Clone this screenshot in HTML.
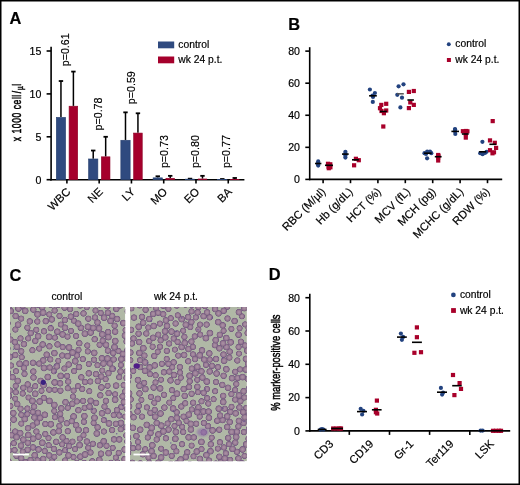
<!DOCTYPE html>
<html><head><meta charset="utf-8"><style>
html,body{margin:0;padding:0;background:#fff;}
svg{display:block;will-change:transform;}
text{font-family:"Liberation Sans", sans-serif;fill:#000;stroke:#000;stroke-width:0.18px;}
</style></head><body>
<svg width="520" height="485" viewBox="0 0 520 485">
<defs><radialGradient id="cg"><stop offset="0" stop-color="#ab91a6"/><stop offset="0.35" stop-color="#a0859b"/><stop offset="0.62" stop-color="#92768e"/><stop offset="0.8" stop-color="#765c82"/><stop offset="0.9" stop-color="#765c82" stop-opacity="0.7"/><stop offset="1" stop-color="#765c82" stop-opacity="0"/></radialGradient><filter id="blur" x="-5%" y="-5%" width="110%" height="110%"><feGaussianBlur stdDeviation="0.6"/></filter><filter id="blur2" x="-50%" y="-50%" width="200%" height="200%"><feGaussianBlur stdDeviation="1.3"/></filter></defs>
<rect width="520" height="485" fill="#fff"/>
<rect x="0.75" y="0.75" width="518.5" height="483.5" fill="none" stroke="#000" stroke-width="1.5"/>
<text x="9.6" y="24" font-size="16.4" text-anchor="start" font-weight="bold" >A</text>
<text x="288.3" y="29.6" font-size="16.4" text-anchor="start" font-weight="bold" >B</text>
<text x="9.4" y="281.0" font-size="16.4" text-anchor="start" font-weight="bold" >C</text>
<text x="268.7" y="280.4" font-size="16.4" text-anchor="start" font-weight="bold" >D</text>
<line x1="51.10" y1="46.80" x2="51.10" y2="180.50" stroke="#000" stroke-width="1.6"/>
<line x1="50.30" y1="179.70" x2="244.40" y2="179.70" stroke="#000" stroke-width="1.6"/>
<line x1="46.60" y1="179.70" x2="51.10" y2="179.70" stroke="#000" stroke-width="1.6"/>
<text x="41.3" y="183.5" font-size="10.6" text-anchor="end" font-weight="normal" >0</text>
<line x1="46.60" y1="136.80" x2="51.10" y2="136.80" stroke="#000" stroke-width="1.6"/>
<text x="41.3" y="140.6" font-size="10.6" text-anchor="end" font-weight="normal" >5</text>
<line x1="46.60" y1="93.90" x2="51.10" y2="93.90" stroke="#000" stroke-width="1.6"/>
<text x="41.3" y="97.69999999999999" font-size="10.6" text-anchor="end" font-weight="normal" >10</text>
<line x1="46.60" y1="51.00" x2="51.10" y2="51.00" stroke="#000" stroke-width="1.6"/>
<text x="41.3" y="54.8" font-size="10.6" text-anchor="end" font-weight="normal" >15</text>
<text class="yl" transform="translate(20.8,141.3) rotate(-90) scale(0.66,1)" font-size="13" letter-spacing="0.85" style="stroke-width:0.5px">x 1000 cell<tspan dx="1.2">/</tspan><tspan font-size="9.5" dx="0.6" dy="1.8">µ</tspan><tspan dy="-1.8">l</tspan></text>
<line x1="66.90" y1="179.70" x2="66.90" y2="183.50" stroke="#000" stroke-width="1.6"/>
<line x1="60.95" y1="81.03" x2="60.95" y2="117.07" stroke="#000" stroke-width="1.5"/>
<line x1="58.75" y1="81.03" x2="63.15" y2="81.03" stroke="#000" stroke-width="1.8"/>
<rect x="56.30" y="117.37" width="9.30" height="62.33" fill="#2f4a7f" stroke="#27406f" stroke-width="0.6"/>
<line x1="73.40" y1="71.59" x2="73.40" y2="105.91" stroke="#000" stroke-width="1.5"/>
<line x1="71.20" y1="71.59" x2="75.60" y2="71.59" stroke="#000" stroke-width="1.8"/>
<rect x="69.10" y="106.21" width="8.60" height="73.49" fill="#a5002c" stroke="#8e0026" stroke-width="0.6"/>
<text class="pv" transform="translate(68.70,66.3) rotate(-90)" font-size="10.7">p=0.61</text>
<text class="xl" transform="translate(71.20,192.5) rotate(-45)" font-size="11.3" text-anchor="end">WBC</text>
<line x1="99.17" y1="179.70" x2="99.17" y2="183.50" stroke="#000" stroke-width="1.6"/>
<line x1="93.22" y1="150.53" x2="93.22" y2="158.68" stroke="#000" stroke-width="1.5"/>
<line x1="91.02" y1="150.53" x2="95.42" y2="150.53" stroke="#000" stroke-width="1.8"/>
<rect x="88.57" y="158.98" width="9.30" height="20.72" fill="#2f4a7f" stroke="#27406f" stroke-width="0.6"/>
<line x1="105.67" y1="136.80" x2="105.67" y2="156.53" stroke="#000" stroke-width="1.5"/>
<line x1="103.47" y1="136.80" x2="107.87" y2="136.80" stroke="#000" stroke-width="1.8"/>
<rect x="101.37" y="156.83" width="8.60" height="22.87" fill="#a5002c" stroke="#8e0026" stroke-width="0.6"/>
<text class="pv" transform="translate(101.50,130.5) rotate(-90)" font-size="10.7">p=0.78</text>
<text class="xl" transform="translate(103.47,192.5) rotate(-45)" font-size="11.3" text-anchor="end">NE</text>
<line x1="131.44" y1="179.70" x2="131.44" y2="183.50" stroke="#000" stroke-width="1.6"/>
<line x1="125.49" y1="112.35" x2="125.49" y2="139.97" stroke="#000" stroke-width="1.5"/>
<line x1="123.29" y1="112.35" x2="127.69" y2="112.35" stroke="#000" stroke-width="1.8"/>
<rect x="120.84" y="140.27" width="9.30" height="39.43" fill="#2f4a7f" stroke="#27406f" stroke-width="0.6"/>
<line x1="137.94" y1="113.29" x2="137.94" y2="132.77" stroke="#000" stroke-width="1.5"/>
<line x1="135.74" y1="113.29" x2="140.14" y2="113.29" stroke="#000" stroke-width="1.8"/>
<rect x="133.64" y="133.07" width="8.60" height="46.63" fill="#a5002c" stroke="#8e0026" stroke-width="0.6"/>
<text class="pv" transform="translate(135.00,104.2) rotate(-90)" font-size="10.7">p=0.59</text>
<text class="xl" transform="translate(135.74,192.5) rotate(-45)" font-size="11.3" text-anchor="end">LY</text>
<line x1="163.71" y1="179.70" x2="163.71" y2="183.50" stroke="#000" stroke-width="1.6"/>
<line x1="157.76" y1="176.27" x2="157.76" y2="177.55" stroke="#000" stroke-width="1.5"/>
<line x1="155.56" y1="176.27" x2="159.96" y2="176.27" stroke="#000" stroke-width="1.8"/>
<rect x="153.11" y="177.85" width="9.30" height="1.85" fill="#2f4a7f" stroke="#27406f" stroke-width="0.6"/>
<line x1="170.21" y1="175.84" x2="170.21" y2="177.98" stroke="#000" stroke-width="1.5"/>
<line x1="168.01" y1="175.84" x2="172.41" y2="175.84" stroke="#000" stroke-width="1.8"/>
<rect x="165.91" y="178.28" width="8.60" height="1.42" fill="#a5002c" stroke="#8e0026" stroke-width="0.6"/>
<text class="pv" transform="translate(167.60,168.1) rotate(-90)" font-size="10.7">p=0.73</text>
<text class="xl" transform="translate(168.01,192.5) rotate(-45)" font-size="11.3" text-anchor="end">MO</text>
<line x1="195.98" y1="179.70" x2="195.98" y2="183.50" stroke="#000" stroke-width="1.6"/>
<line x1="190.03" y1="178.67" x2="190.03" y2="178.84" stroke="#000" stroke-width="1.5"/>
<line x1="187.83" y1="178.67" x2="192.23" y2="178.67" stroke="#000" stroke-width="1.8"/>
<rect x="185.38" y="179.14" width="9.30" height="0.56" fill="#2f4a7f" stroke="#27406f" stroke-width="0.6"/>
<line x1="202.48" y1="175.84" x2="202.48" y2="178.67" stroke="#000" stroke-width="1.5"/>
<line x1="200.28" y1="175.84" x2="204.68" y2="175.84" stroke="#000" stroke-width="1.8"/>
<rect x="198.18" y="178.97" width="8.60" height="0.73" fill="#a5002c" stroke="#8e0026" stroke-width="0.6"/>
<text class="pv" transform="translate(198.60,168.1) rotate(-90)" font-size="10.7">p=0.80</text>
<text class="xl" transform="translate(200.28,192.5) rotate(-45)" font-size="11.3" text-anchor="end">EO</text>
<line x1="228.25" y1="179.70" x2="228.25" y2="183.50" stroke="#000" stroke-width="1.6"/>
<line x1="222.30" y1="179.01" x2="222.30" y2="179.19" stroke="#000" stroke-width="1.5"/>
<line x1="220.10" y1="179.01" x2="224.50" y2="179.01" stroke="#000" stroke-width="1.8"/>
<rect x="217.65" y="179.49" width="9.30" height="0.21" fill="#2f4a7f" stroke="#27406f" stroke-width="0.6"/>
<line x1="234.75" y1="177.98" x2="234.75" y2="179.10" stroke="#000" stroke-width="1.5"/>
<line x1="232.55" y1="177.98" x2="236.95" y2="177.98" stroke="#000" stroke-width="1.8"/>
<rect x="230.45" y="179.40" width="8.60" height="0.30" fill="#a5002c" stroke="#8e0026" stroke-width="0.6"/>
<text class="pv" transform="translate(230.20,168.1) rotate(-90)" font-size="10.7">p=0.77</text>
<text class="xl" transform="translate(232.55,192.5) rotate(-45)" font-size="11.3" text-anchor="end">BA</text>
<rect x="158" y="41.5" width="16.2" height="6.8" fill="#2f4a7f"/>
<rect x="158" y="56.5" width="16.2" height="6.8" fill="#a5002c"/>
<text x="178.3" y="47.7" font-size="10.3" text-anchor="start" font-weight="normal" >control</text>
<text x="178.3" y="62.7" font-size="10.3" text-anchor="start" font-weight="normal" >wk 24 p.t.</text>
<line x1="309.70" y1="47.20" x2="309.70" y2="180.20" stroke="#000" stroke-width="1.6"/>
<line x1="308.90" y1="179.40" x2="502.20" y2="179.40" stroke="#000" stroke-width="1.6"/>
<line x1="305.30" y1="179.40" x2="309.70" y2="179.40" stroke="#000" stroke-width="1.6"/>
<text x="300.0" y="183.20000000000002" font-size="10.6" text-anchor="end" font-weight="normal" >0</text>
<line x1="305.30" y1="147.33" x2="309.70" y2="147.33" stroke="#000" stroke-width="1.6"/>
<text x="300.0" y="151.13000000000002" font-size="10.6" text-anchor="end" font-weight="normal" >20</text>
<line x1="305.30" y1="115.26" x2="309.70" y2="115.26" stroke="#000" stroke-width="1.6"/>
<text x="300.0" y="119.06" font-size="10.6" text-anchor="end" font-weight="normal" >40</text>
<line x1="305.30" y1="83.19" x2="309.70" y2="83.19" stroke="#000" stroke-width="1.6"/>
<text x="300.0" y="86.99000000000001" font-size="10.6" text-anchor="end" font-weight="normal" >60</text>
<line x1="305.30" y1="51.12" x2="309.70" y2="51.12" stroke="#000" stroke-width="1.6"/>
<text x="300.0" y="54.92" font-size="10.6" text-anchor="end" font-weight="normal" >80</text>
<line x1="323.10" y1="179.40" x2="323.10" y2="183.20" stroke="#000" stroke-width="1.6"/>
<text class="xl" transform="translate(326.10,192.3) rotate(-45)" font-size="11.2" text-anchor="end">RBC (M/µl)</text>
<line x1="350.50" y1="179.40" x2="350.50" y2="183.20" stroke="#000" stroke-width="1.6"/>
<text class="xl" transform="translate(353.50,192.3) rotate(-45)" font-size="11.2" text-anchor="end">Hb (g/dL)</text>
<line x1="377.90" y1="179.40" x2="377.90" y2="183.20" stroke="#000" stroke-width="1.6"/>
<text class="xl" transform="translate(381.70,192.3) rotate(-45)" font-size="11.2" text-anchor="end">HCT (%)</text>
<line x1="405.30" y1="179.40" x2="405.30" y2="183.20" stroke="#000" stroke-width="1.6"/>
<text class="xl" transform="translate(411.00,192.3) rotate(-45)" font-size="11.2" text-anchor="end">MCV (fL)</text>
<line x1="432.70" y1="179.40" x2="432.70" y2="183.20" stroke="#000" stroke-width="1.6"/>
<text class="xl" transform="translate(436.50,192.3) rotate(-45)" font-size="11.2" text-anchor="end">MCH (pg)</text>
<line x1="460.10" y1="179.40" x2="460.10" y2="183.20" stroke="#000" stroke-width="1.6"/>
<text class="xl" transform="translate(464.10,192.3) rotate(-45)" font-size="11.2" text-anchor="end">MCHC (g/dL)</text>
<line x1="487.50" y1="179.40" x2="487.50" y2="183.20" stroke="#000" stroke-width="1.6"/>
<text class="xl" transform="translate(490.50,192.3) rotate(-45)" font-size="11.2" text-anchor="end">RDW (%)</text>
<circle cx="318.20" cy="161.40" r="2.1" fill="#22427f"/>
<circle cx="318.20" cy="162.90" r="2.1" fill="#22427f"/>
<circle cx="318.20" cy="164.40" r="2.1" fill="#22427f"/>
<circle cx="318.20" cy="165.60" r="2.1" fill="#22427f"/>
<line x1="315.00" y1="163.50" x2="321.40" y2="163.50" stroke="#000" stroke-width="1.6"/>
<rect x="325.90" y="161.70" width="4.2" height="4.2" fill="#a8002a"/>
<rect x="328.20" y="162.20" width="4.2" height="4.2" fill="#a8002a"/>
<rect x="326.50" y="164.70" width="4.2" height="4.2" fill="#a8002a"/>
<rect x="328.30" y="165.20" width="4.2" height="4.2" fill="#a8002a"/>
<rect x="326.70" y="166.10" width="4.2" height="4.2" fill="#a8002a"/>
<line x1="325.00" y1="165.30" x2="333.00" y2="165.30" stroke="#000" stroke-width="1.6"/>
<circle cx="345.40" cy="151.80" r="2.1" fill="#22427f"/>
<circle cx="345.40" cy="153.50" r="2.1" fill="#22427f"/>
<circle cx="345.40" cy="155.50" r="2.1" fill="#22427f"/>
<circle cx="345.40" cy="157.60" r="2.1" fill="#22427f"/>
<line x1="342.00" y1="154.10" x2="348.70" y2="154.10" stroke="#000" stroke-width="1.6"/>
<rect x="353.80" y="156.70" width="4.2" height="4.2" fill="#a8002a"/>
<rect x="356.70" y="158.10" width="4.2" height="4.2" fill="#a8002a"/>
<rect x="352.00" y="163.20" width="4.2" height="4.2" fill="#a8002a"/>
<line x1="352.00" y1="159.80" x2="358.80" y2="159.80" stroke="#000" stroke-width="1.6"/>
<circle cx="369.90" cy="89.50" r="2.1" fill="#22427f"/>
<circle cx="374.90" cy="93.00" r="2.1" fill="#22427f"/>
<circle cx="373.00" cy="97.00" r="2.1" fill="#22427f"/>
<circle cx="372.80" cy="101.90" r="2.1" fill="#22427f"/>
<circle cx="372.50" cy="95.50" r="2.1" fill="#22427f"/>
<line x1="369.10" y1="95.80" x2="376.80" y2="95.80" stroke="#000" stroke-width="1.6"/>
<rect x="384.10" y="101.70" width="4.2" height="4.2" fill="#a8002a"/>
<rect x="379.20" y="102.80" width="4.2" height="4.2" fill="#a8002a"/>
<rect x="377.90" y="106.10" width="4.2" height="4.2" fill="#a8002a"/>
<rect x="379.40" y="108.90" width="4.2" height="4.2" fill="#a8002a"/>
<rect x="384.10" y="108.40" width="4.2" height="4.2" fill="#a8002a"/>
<rect x="381.80" y="111.10" width="4.2" height="4.2" fill="#a8002a"/>
<rect x="381.20" y="124.40" width="4.2" height="4.2" fill="#a8002a"/>
<line x1="380.00" y1="111.50" x2="386.90" y2="111.50" stroke="#000" stroke-width="1.6"/>
<circle cx="398.60" cy="86.30" r="2.1" fill="#22427f"/>
<circle cx="403.50" cy="84.30" r="2.1" fill="#22427f"/>
<circle cx="397.30" cy="94.80" r="2.1" fill="#22427f"/>
<circle cx="402.00" cy="97.70" r="2.1" fill="#22427f"/>
<circle cx="400.40" cy="107.40" r="2.1" fill="#22427f"/>
<line x1="397.00" y1="93.80" x2="403.80" y2="93.80" stroke="#555" stroke-width="1.5"/>
<rect x="406.80" y="89.80" width="4.2" height="4.2" fill="#a8002a"/>
<rect x="411.70" y="88.90" width="4.2" height="4.2" fill="#a8002a"/>
<rect x="408.20" y="100.30" width="4.2" height="4.2" fill="#a8002a"/>
<rect x="411.70" y="102.80" width="4.2" height="4.2" fill="#a8002a"/>
<rect x="406.80" y="106.00" width="4.2" height="4.2" fill="#a8002a"/>
<line x1="407.40" y1="100.00" x2="413.90" y2="100.00" stroke="#000" stroke-width="1.6"/>
<circle cx="424.50" cy="153.20" r="2.1" fill="#22427f"/>
<circle cx="427.20" cy="151.60" r="2.1" fill="#22427f"/>
<circle cx="430.00" cy="151.60" r="2.1" fill="#22427f"/>
<circle cx="431.30" cy="153.20" r="2.1" fill="#22427f"/>
<circle cx="427.10" cy="158.30" r="2.1" fill="#22427f"/>
<circle cx="426.00" cy="154.00" r="2.1" fill="#22427f"/>
<line x1="424.00" y1="153.20" x2="431.70" y2="153.20" stroke="#000" stroke-width="1.6"/>
<rect x="436.10" y="152.90" width="4.2" height="4.2" fill="#a8002a"/>
<rect x="436.10" y="155.40" width="4.2" height="4.2" fill="#a8002a"/>
<rect x="436.10" y="158.40" width="4.2" height="4.2" fill="#a8002a"/>
<rect x="436.30" y="153.90" width="4.2" height="4.2" fill="#a8002a"/>
<line x1="434.80" y1="156.70" x2="441.60" y2="156.70" stroke="#000" stroke-width="1.6"/>
<circle cx="455.10" cy="129.60" r="2.1" fill="#22427f"/>
<circle cx="455.10" cy="131.60" r="2.1" fill="#22427f"/>
<circle cx="455.30" cy="134.00" r="2.1" fill="#22427f"/>
<circle cx="455.00" cy="129.00" r="2.1" fill="#22427f"/>
<line x1="451.40" y1="131.40" x2="459.00" y2="131.40" stroke="#000" stroke-width="1.6"/>
<rect x="460.80" y="129.10" width="4.2" height="4.2" fill="#a8002a"/>
<rect x="463.90" y="128.90" width="4.2" height="4.2" fill="#a8002a"/>
<rect x="465.30" y="129.20" width="4.2" height="4.2" fill="#a8002a"/>
<rect x="463.70" y="131.90" width="4.2" height="4.2" fill="#a8002a"/>
<rect x="463.70" y="135.50" width="4.2" height="4.2" fill="#a8002a"/>
<line x1="461.90" y1="134.00" x2="468.70" y2="134.00" stroke="#000" stroke-width="1.6"/>
<circle cx="482.40" cy="141.80" r="2.1" fill="#22427f"/>
<circle cx="480.20" cy="153.20" r="2.1" fill="#22427f"/>
<circle cx="482.60" cy="154.20" r="2.1" fill="#22427f"/>
<circle cx="485.00" cy="153.00" r="2.1" fill="#22427f"/>
<circle cx="486.50" cy="151.80" r="2.1" fill="#22427f"/>
<line x1="479.10" y1="151.80" x2="486.30" y2="151.80" stroke="#000" stroke-width="1.6"/>
<rect x="490.60" y="119.00" width="4.2" height="4.2" fill="#a8002a"/>
<rect x="487.90" y="138.30" width="4.2" height="4.2" fill="#a8002a"/>
<rect x="492.70" y="140.70" width="4.2" height="4.2" fill="#a8002a"/>
<rect x="494.00" y="145.80" width="4.2" height="4.2" fill="#a8002a"/>
<rect x="487.90" y="148.10" width="4.2" height="4.2" fill="#a8002a"/>
<rect x="490.40" y="151.20" width="4.2" height="4.2" fill="#a8002a"/>
<rect x="491.90" y="150.20" width="4.2" height="4.2" fill="#a8002a"/>
<line x1="489.40" y1="144.30" x2="496.10" y2="144.30" stroke="#000" stroke-width="1.6"/>
<circle cx="448.80" cy="44.30" r="1.95" fill="#22427f"/>
<rect x="446.90" y="58.00" width="4.0" height="4.0" fill="#a8002a"/>
<text x="455.3" y="47.3" font-size="10.3" text-anchor="start" font-weight="normal" >control</text>
<text x="455.3" y="63.1" font-size="10.3" text-anchor="start" font-weight="normal" >wk 24 p.t.</text>
<line x1="309.80" y1="293.80" x2="309.80" y2="431.70" stroke="#000" stroke-width="1.6"/>
<line x1="309.00" y1="430.90" x2="510.20" y2="430.90" stroke="#000" stroke-width="1.6"/>
<line x1="305.40" y1="430.90" x2="309.80" y2="430.90" stroke="#000" stroke-width="1.6"/>
<text x="300.0" y="434.7" font-size="10.6" text-anchor="end" font-weight="normal" >0</text>
<line x1="305.40" y1="397.60" x2="309.80" y2="397.60" stroke="#000" stroke-width="1.6"/>
<text x="300.0" y="401.4" font-size="10.6" text-anchor="end" font-weight="normal" >20</text>
<line x1="305.40" y1="364.30" x2="309.80" y2="364.30" stroke="#000" stroke-width="1.6"/>
<text x="300.0" y="368.09999999999997" font-size="10.6" text-anchor="end" font-weight="normal" >40</text>
<line x1="305.40" y1="331.00" x2="309.80" y2="331.00" stroke="#000" stroke-width="1.6"/>
<text x="300.0" y="334.8" font-size="10.6" text-anchor="end" font-weight="normal" >60</text>
<line x1="305.40" y1="297.70" x2="309.80" y2="297.70" stroke="#000" stroke-width="1.6"/>
<text x="300.0" y="301.5" font-size="10.6" text-anchor="end" font-weight="normal" >80</text>
<line x1="349.30" y1="430.90" x2="349.30" y2="434.90" stroke="#000" stroke-width="1.6"/>
<line x1="389.50" y1="430.90" x2="389.50" y2="434.90" stroke="#000" stroke-width="1.6"/>
<line x1="429.60" y1="430.90" x2="429.60" y2="434.90" stroke="#000" stroke-width="1.6"/>
<line x1="469.80" y1="430.90" x2="469.80" y2="434.90" stroke="#000" stroke-width="1.6"/>
<text class="yl" transform="translate(279.8,410.8) rotate(-90) scale(0.70,1)" font-size="13.4" style="stroke-width:0.5px">% marker-positive cells</text>
<text class="xl" transform="translate(334.10,444.5) rotate(-45)" font-size="11.2" text-anchor="end">CD3</text>
<text class="xl" transform="translate(374.10,444.5) rotate(-45)" font-size="11.2" text-anchor="end">CD19</text>
<text class="xl" transform="translate(414.20,444.5) rotate(-45)" font-size="11.2" text-anchor="end">Gr-1</text>
<text class="xl" transform="translate(454.30,444.5) rotate(-45)" font-size="11.2" text-anchor="end">Ter119</text>
<text class="xl" transform="translate(494.60,444.5) rotate(-45)" font-size="11.2" text-anchor="end">LSK</text>
<circle cx="320.50" cy="429.60" r="2.1" fill="#22427f"/>
<circle cx="322.00" cy="429.00" r="2.1" fill="#22427f"/>
<circle cx="323.50" cy="429.60" r="2.1" fill="#22427f"/>
<line x1="317.70" y1="429.50" x2="326.60" y2="429.50" stroke="#000" stroke-width="1.6"/>
<rect x="331.10" y="426.40" width="4.2" height="4.2" fill="#a8002a"/>
<rect x="334.40" y="426.40" width="4.2" height="4.2" fill="#a8002a"/>
<rect x="337.40" y="426.40" width="4.2" height="4.2" fill="#a8002a"/>
<rect x="338.90" y="426.40" width="4.2" height="4.2" fill="#a8002a"/>
<line x1="331.20" y1="428.50" x2="343.00" y2="428.50" stroke="#000" stroke-width="1.6"/>
<circle cx="360.70" cy="408.80" r="2.1" fill="#22427f"/>
<circle cx="363.40" cy="410.80" r="2.1" fill="#22427f"/>
<circle cx="362.10" cy="414.50" r="2.1" fill="#22427f"/>
<line x1="357.00" y1="411.60" x2="367.00" y2="411.60" stroke="#000" stroke-width="1.6"/>
<rect x="374.80" y="398.50" width="4.2" height="4.2" fill="#a8002a"/>
<rect x="373.80" y="407.70" width="4.2" height="4.2" fill="#a8002a"/>
<rect x="375.10" y="411.40" width="4.2" height="4.2" fill="#a8002a"/>
<rect x="373.80" y="410.10" width="4.2" height="4.2" fill="#a8002a"/>
<line x1="371.90" y1="409.80" x2="381.60" y2="409.80" stroke="#000" stroke-width="1.6"/>
<circle cx="400.90" cy="333.60" r="2.1" fill="#22427f"/>
<circle cx="403.10" cy="336.90" r="2.1" fill="#22427f"/>
<circle cx="401.90" cy="339.80" r="2.1" fill="#22427f"/>
<line x1="397.00" y1="337.10" x2="406.80" y2="337.10" stroke="#000" stroke-width="1.6"/>
<rect x="414.80" y="325.30" width="4.2" height="4.2" fill="#a8002a"/>
<rect x="414.80" y="335.10" width="4.2" height="4.2" fill="#a8002a"/>
<rect x="412.30" y="350.70" width="4.2" height="4.2" fill="#a8002a"/>
<rect x="418.90" y="350.10" width="4.2" height="4.2" fill="#a8002a"/>
<line x1="412.00" y1="342.30" x2="421.90" y2="342.30" stroke="#000" stroke-width="1.6"/>
<circle cx="440.90" cy="387.90" r="2.1" fill="#22427f"/>
<circle cx="442.10" cy="394.60" r="2.1" fill="#22427f"/>
<circle cx="443.10" cy="392.60" r="2.1" fill="#22427f"/>
<line x1="437.00" y1="392.20" x2="447.00" y2="392.20" stroke="#000" stroke-width="1.6"/>
<rect x="450.90" y="372.90" width="4.2" height="4.2" fill="#a8002a"/>
<rect x="457.50" y="381.00" width="4.2" height="4.2" fill="#a8002a"/>
<rect x="458.90" y="386.80" width="4.2" height="4.2" fill="#a8002a"/>
<rect x="452.30" y="393.00" width="4.2" height="4.2" fill="#a8002a"/>
<line x1="452.20" y1="385.70" x2="461.70" y2="385.70" stroke="#000" stroke-width="1.6"/>
<circle cx="480.60" cy="430.60" r="2.1" fill="#22427f"/>
<circle cx="482.60" cy="430.60" r="2.1" fill="#22427f"/>
<line x1="478.60" y1="430.80" x2="484.60" y2="430.80" stroke="#000" stroke-width="1.6"/>
<rect x="490.90" y="428.70" width="4.2" height="4.2" fill="#a8002a"/>
<rect x="493.90" y="428.70" width="4.2" height="4.2" fill="#a8002a"/>
<rect x="496.90" y="428.70" width="4.2" height="4.2" fill="#a8002a"/>
<rect x="498.90" y="428.70" width="4.2" height="4.2" fill="#a8002a"/>
<line x1="491.00" y1="430.80" x2="503.20" y2="430.80" stroke="#000" stroke-width="1.6"/>
<circle cx="453.40" cy="294.90" r="2.35" fill="#22427f"/>
<rect x="451.10" y="308.10" width="4.8" height="4.8" fill="#a8002a"/>
<text x="459.9" y="298" font-size="10.3" text-anchor="start" font-weight="normal" >control</text>
<text x="459.9" y="313.5" font-size="10.3" text-anchor="start" font-weight="normal" >wk 24 p.t.</text>
<text x="51.4" y="300" font-size="10.3" text-anchor="start" font-weight="normal" >control</text>
<text x="153.9" y="299.8" font-size="10.3" text-anchor="start" font-weight="normal" >wk 24 p.t.</text>
<clipPath id="clip1"><rect x="10" y="307" width="115.3" height="154"/></clipPath>
<g clip-path="url(#clip1)">
<rect x="10" y="307" width="115.3" height="154" fill="#b0b8a6"/>
<g filter="url(#blur)">
<circle cx="23.3" cy="439.6" r="3.62" fill="url(#cg)"/>
<circle cx="99.6" cy="344.8" r="3.45" fill="url(#cg)"/>
<circle cx="67.1" cy="375.9" r="3.43" fill="url(#cg)"/>
<circle cx="86.0" cy="430.2" r="3.60" fill="url(#cg)"/>
<circle cx="18.4" cy="308.5" r="3.73" fill="url(#cg)"/>
<circle cx="108.4" cy="373.2" r="3.57" fill="url(#cg)"/>
<circle cx="99.5" cy="304.3" r="3.74" fill="url(#cg)"/>
<circle cx="61.0" cy="419.4" r="3.75" fill="url(#cg)"/>
<circle cx="34.7" cy="455.2" r="3.65" fill="url(#cg)"/>
<circle cx="116.3" cy="308.9" r="3.58" fill="url(#cg)"/>
<circle cx="10.1" cy="390.6" r="3.50" fill="url(#cg)"/>
<circle cx="120.9" cy="365.0" r="3.38" fill="url(#cg)"/>
<circle cx="33.3" cy="371.5" r="3.56" fill="url(#cg)"/>
<circle cx="10.5" cy="339.5" r="3.42" fill="url(#cg)"/>
<circle cx="60.1" cy="383.3" r="3.58" fill="url(#cg)"/>
<circle cx="35.3" cy="340.9" r="3.52" fill="url(#cg)"/>
<circle cx="33.5" cy="377.5" r="3.57" fill="url(#cg)"/>
<circle cx="42.2" cy="307.4" r="3.58" fill="url(#cg)"/>
<circle cx="108.6" cy="393.0" r="3.57" fill="url(#cg)"/>
<circle cx="84.9" cy="333.7" r="3.72" fill="url(#cg)"/>
<circle cx="127.4" cy="441.6" r="3.57" fill="url(#cg)"/>
<circle cx="21.7" cy="357.2" r="3.40" fill="url(#cg)"/>
<circle cx="94.5" cy="417.8" r="3.70" fill="url(#cg)"/>
<circle cx="120.6" cy="371.5" r="3.65" fill="url(#cg)"/>
<circle cx="107.7" cy="411.2" r="3.50" fill="url(#cg)"/>
<circle cx="43.8" cy="398.0" r="3.53" fill="url(#cg)"/>
<circle cx="114.0" cy="439.4" r="3.57" fill="url(#cg)"/>
<circle cx="36.4" cy="431.6" r="3.51" fill="url(#cg)"/>
<circle cx="57.3" cy="331.7" r="3.62" fill="url(#cg)"/>
<circle cx="73.6" cy="416.5" r="3.75" fill="url(#cg)"/>
<circle cx="88.8" cy="364.0" r="3.37" fill="url(#cg)"/>
<circle cx="101.4" cy="387.4" r="3.72" fill="url(#cg)"/>
<circle cx="54.7" cy="382.4" r="3.75" fill="url(#cg)"/>
<circle cx="10.6" cy="311.0" r="3.70" fill="url(#cg)"/>
<circle cx="92.3" cy="461.3" r="3.54" fill="url(#cg)"/>
<circle cx="79.0" cy="367.0" r="3.62" fill="url(#cg)"/>
<circle cx="27.7" cy="384.4" r="3.54" fill="url(#cg)"/>
<circle cx="126.1" cy="427.3" r="3.50" fill="url(#cg)"/>
<circle cx="72.5" cy="441.6" r="3.41" fill="url(#cg)"/>
<circle cx="35.2" cy="386.2" r="3.43" fill="url(#cg)"/>
<circle cx="122.5" cy="396.4" r="3.54" fill="url(#cg)"/>
<circle cx="62.7" cy="347.1" r="3.46" fill="url(#cg)"/>
<circle cx="73.5" cy="457.1" r="3.43" fill="url(#cg)"/>
<circle cx="7.7" cy="429.4" r="3.59" fill="url(#cg)"/>
<circle cx="106.5" cy="445.8" r="3.46" fill="url(#cg)"/>
<circle cx="96.8" cy="433.5" r="3.68" fill="url(#cg)"/>
<circle cx="13.8" cy="443.2" r="3.39" fill="url(#cg)"/>
<circle cx="76.1" cy="336.0" r="3.44" fill="url(#cg)"/>
<circle cx="68.2" cy="381.6" r="3.52" fill="url(#cg)"/>
<circle cx="50.3" cy="359.4" r="3.44" fill="url(#cg)"/>
<circle cx="72.3" cy="403.8" r="3.68" fill="url(#cg)"/>
<circle cx="81.3" cy="377.3" r="3.55" fill="url(#cg)"/>
<circle cx="28.5" cy="397.5" r="3.37" fill="url(#cg)"/>
<circle cx="103.9" cy="431.5" r="3.43" fill="url(#cg)"/>
<circle cx="106.0" cy="344.8" r="3.63" fill="url(#cg)"/>
<circle cx="37.3" cy="321.5" r="3.47" fill="url(#cg)"/>
<circle cx="82.8" cy="359.1" r="3.47" fill="url(#cg)"/>
<circle cx="15.4" cy="329.5" r="3.43" fill="url(#cg)"/>
<circle cx="71.0" cy="330.9" r="3.35" fill="url(#cg)"/>
<circle cx="40.1" cy="417.9" r="3.65" fill="url(#cg)"/>
<circle cx="62.2" cy="355.5" r="3.48" fill="url(#cg)"/>
<circle cx="64.5" cy="307.8" r="3.45" fill="url(#cg)"/>
<circle cx="53.9" cy="371.3" r="3.39" fill="url(#cg)"/>
<circle cx="29.8" cy="321.4" r="3.55" fill="url(#cg)"/>
<circle cx="116.1" cy="385.6" r="3.65" fill="url(#cg)"/>
<circle cx="32.4" cy="400.9" r="3.73" fill="url(#cg)"/>
<circle cx="24.8" cy="419.0" r="3.72" fill="url(#cg)"/>
<circle cx="89.3" cy="391.2" r="3.36" fill="url(#cg)"/>
<circle cx="76.9" cy="355.4" r="3.55" fill="url(#cg)"/>
<circle cx="83.5" cy="313.4" r="3.54" fill="url(#cg)"/>
<circle cx="43.2" cy="458.9" r="3.57" fill="url(#cg)"/>
<circle cx="113.2" cy="353.0" r="3.52" fill="url(#cg)"/>
<circle cx="120.9" cy="423.0" r="3.72" fill="url(#cg)"/>
<circle cx="57.5" cy="344.4" r="3.59" fill="url(#cg)"/>
<circle cx="8.0" cy="444.6" r="3.52" fill="url(#cg)"/>
<circle cx="11.6" cy="435.1" r="3.74" fill="url(#cg)"/>
<circle cx="27.8" cy="442.8" r="3.56" fill="url(#cg)"/>
<circle cx="125.1" cy="416.6" r="3.35" fill="url(#cg)"/>
<circle cx="68.7" cy="364.5" r="3.60" fill="url(#cg)"/>
<circle cx="49.1" cy="336.9" r="3.74" fill="url(#cg)"/>
<circle cx="88.8" cy="373.3" r="3.61" fill="url(#cg)"/>
<circle cx="87.8" cy="351.4" r="3.43" fill="url(#cg)"/>
<circle cx="67.6" cy="356.1" r="3.69" fill="url(#cg)"/>
<circle cx="112.7" cy="447.9" r="3.36" fill="url(#cg)"/>
<circle cx="101.9" cy="358.3" r="3.69" fill="url(#cg)"/>
<circle cx="32.8" cy="411.9" r="3.40" fill="url(#cg)"/>
<circle cx="108.6" cy="453.1" r="3.69" fill="url(#cg)"/>
<circle cx="48.7" cy="445.2" r="3.42" fill="url(#cg)"/>
<circle cx="90.3" cy="381.5" r="3.41" fill="url(#cg)"/>
<circle cx="126.5" cy="341.5" r="3.45" fill="url(#cg)"/>
<circle cx="95.0" cy="317.5" r="3.55" fill="url(#cg)"/>
<circle cx="27.6" cy="449.8" r="3.63" fill="url(#cg)"/>
<circle cx="32.8" cy="425.5" r="3.55" fill="url(#cg)"/>
<circle cx="79.8" cy="438.6" r="3.38" fill="url(#cg)"/>
<circle cx="42.3" cy="442.8" r="3.73" fill="url(#cg)"/>
<circle cx="80.3" cy="456.7" r="3.69" fill="url(#cg)"/>
<circle cx="114.6" cy="325.7" r="3.50" fill="url(#cg)"/>
<circle cx="73.9" cy="320.7" r="3.37" fill="url(#cg)"/>
<circle cx="112.1" cy="430.1" r="3.51" fill="url(#cg)"/>
<circle cx="107.5" cy="358.5" r="3.74" fill="url(#cg)"/>
<circle cx="16.9" cy="346.7" r="3.73" fill="url(#cg)"/>
<circle cx="115.1" cy="394.3" r="3.42" fill="url(#cg)"/>
<circle cx="119.2" cy="377.2" r="3.43" fill="url(#cg)"/>
<circle cx="107.4" cy="306.0" r="3.74" fill="url(#cg)"/>
<circle cx="88.3" cy="318.7" r="3.49" fill="url(#cg)"/>
<circle cx="21.0" cy="445.6" r="3.63" fill="url(#cg)"/>
<circle cx="126.9" cy="371.4" r="3.72" fill="url(#cg)"/>
<circle cx="124.7" cy="449.5" r="3.68" fill="url(#cg)"/>
<circle cx="42.7" cy="344.5" r="3.67" fill="url(#cg)"/>
<circle cx="64.9" cy="320.0" r="3.60" fill="url(#cg)"/>
<circle cx="8.3" cy="461.2" r="3.67" fill="url(#cg)"/>
<circle cx="14.6" cy="450.1" r="3.44" fill="url(#cg)"/>
<circle cx="124.6" cy="459.2" r="3.71" fill="url(#cg)"/>
<circle cx="20.5" cy="338.4" r="3.44" fill="url(#cg)"/>
<circle cx="87.3" cy="345.5" r="3.40" fill="url(#cg)"/>
<circle cx="61.3" cy="408.3" r="3.66" fill="url(#cg)"/>
<circle cx="85.1" cy="454.5" r="3.75" fill="url(#cg)"/>
<circle cx="54.4" cy="353.1" r="3.65" fill="url(#cg)"/>
<circle cx="46.7" cy="354.7" r="3.60" fill="url(#cg)"/>
<circle cx="73.0" cy="396.6" r="3.39" fill="url(#cg)"/>
<circle cx="79.3" cy="343.2" r="3.56" fill="url(#cg)"/>
<circle cx="15.8" cy="392.2" r="3.42" fill="url(#cg)"/>
<circle cx="15.6" cy="316.0" r="3.57" fill="url(#cg)"/>
<circle cx="67.8" cy="431.2" r="3.51" fill="url(#cg)"/>
<circle cx="16.4" cy="455.9" r="3.41" fill="url(#cg)"/>
<circle cx="28.0" cy="428.2" r="3.57" fill="url(#cg)"/>
<circle cx="126.5" cy="435.4" r="3.67" fill="url(#cg)"/>
<circle cx="45.8" cy="321.1" r="3.64" fill="url(#cg)"/>
<circle cx="118.5" cy="351.0" r="3.41" fill="url(#cg)"/>
<circle cx="109.0" cy="423.4" r="3.72" fill="url(#cg)"/>
<circle cx="90.6" cy="332.5" r="3.72" fill="url(#cg)"/>
<circle cx="93.7" cy="410.8" r="3.49" fill="url(#cg)"/>
<circle cx="37.6" cy="314.3" r="3.74" fill="url(#cg)"/>
<circle cx="73.6" cy="390.6" r="3.43" fill="url(#cg)"/>
<circle cx="76.2" cy="314.0" r="3.51" fill="url(#cg)"/>
<circle cx="38.4" cy="436.6" r="3.69" fill="url(#cg)"/>
<circle cx="67.8" cy="407.8" r="3.38" fill="url(#cg)"/>
<circle cx="60.2" cy="413.8" r="3.51" fill="url(#cg)"/>
<circle cx="75.0" cy="449.1" r="3.35" fill="url(#cg)"/>
<circle cx="15.7" cy="385.9" r="3.43" fill="url(#cg)"/>
<circle cx="99.9" cy="445.3" r="3.49" fill="url(#cg)"/>
<circle cx="44.8" cy="414.8" r="3.68" fill="url(#cg)"/>
<circle cx="110.0" cy="363.5" r="3.60" fill="url(#cg)"/>
<circle cx="115.8" cy="457.6" r="3.39" fill="url(#cg)"/>
<circle cx="76.1" cy="425.2" r="3.67" fill="url(#cg)"/>
<circle cx="13.3" cy="413.1" r="3.65" fill="url(#cg)"/>
<circle cx="94.0" cy="359.7" r="3.47" fill="url(#cg)"/>
<circle cx="95.5" cy="310.5" r="3.42" fill="url(#cg)"/>
<circle cx="53.4" cy="432.4" r="3.64" fill="url(#cg)"/>
<circle cx="123.4" cy="323.1" r="3.73" fill="url(#cg)"/>
<circle cx="21.3" cy="351.3" r="3.44" fill="url(#cg)"/>
<circle cx="7.5" cy="334.4" r="3.48" fill="url(#cg)"/>
<circle cx="83.1" cy="400.9" r="3.48" fill="url(#cg)"/>
<circle cx="108.3" cy="337.1" r="3.74" fill="url(#cg)"/>
<circle cx="41.5" cy="390.8" r="3.37" fill="url(#cg)"/>
<circle cx="125.1" cy="391.3" r="3.36" fill="url(#cg)"/>
<circle cx="66.5" cy="440.9" r="3.42" fill="url(#cg)"/>
<circle cx="100.3" cy="395.3" r="3.53" fill="url(#cg)"/>
<circle cx="20.1" cy="433.2" r="3.74" fill="url(#cg)"/>
<circle cx="21.3" cy="423.6" r="3.36" fill="url(#cg)"/>
<circle cx="99.3" cy="459.8" r="3.67" fill="url(#cg)"/>
<circle cx="71.1" cy="304.1" r="3.56" fill="url(#cg)"/>
<circle cx="60.7" cy="375.9" r="3.71" fill="url(#cg)"/>
<circle cx="44.0" cy="367.9" r="3.74" fill="url(#cg)"/>
<circle cx="102.0" cy="413.3" r="3.64" fill="url(#cg)"/>
<circle cx="7.5" cy="348.4" r="3.45" fill="url(#cg)"/>
<circle cx="79.6" cy="445.1" r="3.71" fill="url(#cg)"/>
<circle cx="107.6" cy="385.8" r="3.35" fill="url(#cg)"/>
<circle cx="126.7" cy="377.9" r="3.75" fill="url(#cg)"/>
<circle cx="44.0" cy="331.3" r="3.52" fill="url(#cg)"/>
<circle cx="82.2" cy="389.0" r="3.46" fill="url(#cg)"/>
<circle cx="50.6" cy="304.6" r="3.70" fill="url(#cg)"/>
<circle cx="56.2" cy="441.8" r="3.55" fill="url(#cg)"/>
<circle cx="115.9" cy="423.8" r="3.50" fill="url(#cg)"/>
<circle cx="66.8" cy="423.3" r="3.47" fill="url(#cg)"/>
<circle cx="84.7" cy="407.8" r="3.52" fill="url(#cg)"/>
<circle cx="120.7" cy="429.2" r="3.45" fill="url(#cg)"/>
<circle cx="105.9" cy="400.9" r="3.56" fill="url(#cg)"/>
<circle cx="49.4" cy="346.3" r="3.52" fill="url(#cg)"/>
<circle cx="92.9" cy="443.8" r="3.46" fill="url(#cg)"/>
<circle cx="58.3" cy="360.8" r="3.35" fill="url(#cg)"/>
<circle cx="86.7" cy="307.2" r="3.41" fill="url(#cg)"/>
<circle cx="68.5" cy="455.4" r="3.66" fill="url(#cg)"/>
<circle cx="90.6" cy="400.8" r="3.63" fill="url(#cg)"/>
<circle cx="114.5" cy="347.1" r="3.72" fill="url(#cg)"/>
<circle cx="27.4" cy="408.5" r="3.41" fill="url(#cg)"/>
<circle cx="39.7" cy="401.5" r="3.72" fill="url(#cg)"/>
<circle cx="35.2" cy="393.8" r="3.70" fill="url(#cg)"/>
<circle cx="59.4" cy="425.9" r="3.49" fill="url(#cg)"/>
<circle cx="102.3" cy="334.4" r="3.73" fill="url(#cg)"/>
<circle cx="50.8" cy="424.2" r="3.74" fill="url(#cg)"/>
<circle cx="94.2" cy="352.9" r="3.69" fill="url(#cg)"/>
<circle cx="33.3" cy="309.6" r="3.57" fill="url(#cg)"/>
<circle cx="123.9" cy="402.1" r="3.70" fill="url(#cg)"/>
<circle cx="48.5" cy="438.1" r="3.41" fill="url(#cg)"/>
<circle cx="21.3" cy="414.8" r="3.40" fill="url(#cg)"/>
<circle cx="127.6" cy="311.4" r="3.41" fill="url(#cg)"/>
<circle cx="103.7" cy="441.2" r="3.63" fill="url(#cg)"/>
<circle cx="99.0" cy="328.4" r="3.73" fill="url(#cg)"/>
<circle cx="21.2" cy="318.6" r="3.43" fill="url(#cg)"/>
<circle cx="10.4" cy="406.0" r="3.40" fill="url(#cg)"/>
<circle cx="54.3" cy="405.0" r="3.70" fill="url(#cg)"/>
<circle cx="49.4" cy="400.9" r="3.70" fill="url(#cg)"/>
<circle cx="93.6" cy="422.9" r="3.40" fill="url(#cg)"/>
<circle cx="37.5" cy="460.2" r="3.36" fill="url(#cg)"/>
<circle cx="105.6" cy="379.1" r="3.46" fill="url(#cg)"/>
<circle cx="51.9" cy="461.5" r="3.46" fill="url(#cg)"/>
<circle cx="60.8" cy="324.5" r="3.35" fill="url(#cg)"/>
<circle cx="54.9" cy="417.2" r="3.41" fill="url(#cg)"/>
<circle cx="104.1" cy="317.7" r="3.68" fill="url(#cg)"/>
<circle cx="11.1" cy="365.5" r="3.38" fill="url(#cg)"/>
<circle cx="107.9" cy="350.6" r="3.53" fill="url(#cg)"/>
<circle cx="26.0" cy="363.3" r="3.64" fill="url(#cg)"/>
<circle cx="43.2" cy="360.4" r="3.64" fill="url(#cg)"/>
<circle cx="67.8" cy="388.2" r="3.47" fill="url(#cg)"/>
<circle cx="65.2" cy="450.1" r="3.40" fill="url(#cg)"/>
<circle cx="23.3" cy="387.8" r="3.52" fill="url(#cg)"/>
<circle cx="76.8" cy="462.8" r="3.49" fill="url(#cg)"/>
<circle cx="121.3" cy="407.0" r="3.53" fill="url(#cg)"/>
<circle cx="27.4" cy="327.7" r="3.47" fill="url(#cg)"/>
<circle cx="70.8" cy="316.6" r="3.54" fill="url(#cg)"/>
<circle cx="115.1" cy="399.7" r="3.74" fill="url(#cg)"/>
<circle cx="103.8" cy="420.1" r="3.35" fill="url(#cg)"/>
<circle cx="105.7" cy="463.7" r="3.44" fill="url(#cg)"/>
<circle cx="38.1" cy="336.2" r="3.69" fill="url(#cg)"/>
<circle cx="97.6" cy="427.3" r="3.55" fill="url(#cg)"/>
<circle cx="62.6" cy="334.4" r="3.66" fill="url(#cg)"/>
<circle cx="7.7" cy="323.2" r="3.38" fill="url(#cg)"/>
<circle cx="43.6" cy="385.0" r="3.75" fill="url(#cg)"/>
<circle cx="125.5" cy="330.1" r="3.35" fill="url(#cg)"/>
<circle cx="84.2" cy="463.1" r="3.66" fill="url(#cg)"/>
<circle cx="88.2" cy="447.8" r="3.45" fill="url(#cg)"/>
<circle cx="119.2" cy="439.4" r="3.63" fill="url(#cg)"/>
<circle cx="103.5" cy="363.6" r="3.67" fill="url(#cg)"/>
<circle cx="97.9" cy="381.0" r="3.64" fill="url(#cg)"/>
<circle cx="47.8" cy="377.0" r="3.73" fill="url(#cg)"/>
<circle cx="78.5" cy="349.9" r="3.44" fill="url(#cg)"/>
<circle cx="18.1" cy="324.7" r="3.69" fill="url(#cg)"/>
<circle cx="49.1" cy="455.4" r="3.60" fill="url(#cg)"/>
<circle cx="74.1" cy="371.1" r="3.42" fill="url(#cg)"/>
<circle cx="39.2" cy="348.6" r="3.44" fill="url(#cg)"/>
<circle cx="54.3" cy="411.0" r="3.39" fill="url(#cg)"/>
<circle cx="110.6" cy="320.9" r="3.71" fill="url(#cg)"/>
<circle cx="53.9" cy="448.9" r="3.48" fill="url(#cg)"/>
<circle cx="127.3" cy="350.2" r="3.49" fill="url(#cg)"/>
<circle cx="127.0" cy="409.2" r="3.40" fill="url(#cg)"/>
<circle cx="80.9" cy="327.8" r="3.67" fill="url(#cg)"/>
<circle cx="33.0" cy="362.8" r="3.57" fill="url(#cg)"/>
<circle cx="113.7" cy="415.1" r="3.43" fill="url(#cg)"/>
<circle cx="58.2" cy="304.7" r="3.67" fill="url(#cg)"/>
<circle cx="126.5" cy="358.6" r="3.56" fill="url(#cg)"/>
<circle cx="9.8" cy="356.8" r="3.67" fill="url(#cg)"/>
<circle cx="23.9" cy="344.1" r="3.63" fill="url(#cg)"/>
<circle cx="23.9" cy="367.9" r="3.52" fill="url(#cg)"/>
<circle cx="104.5" cy="406.6" r="3.49" fill="url(#cg)"/>
<circle cx="112.6" cy="368.8" r="3.71" fill="url(#cg)"/>
<circle cx="28.2" cy="338.4" r="3.42" fill="url(#cg)"/>
<circle cx="64.4" cy="368.5" r="3.39" fill="url(#cg)"/>
<circle cx="19.6" cy="363.8" r="3.69" fill="url(#cg)"/>
<circle cx="33.2" cy="438.7" r="3.62" fill="url(#cg)"/>
<circle cx="80.2" cy="305.3" r="3.72" fill="url(#cg)"/>
<circle cx="92.4" cy="304.1" r="3.59" fill="url(#cg)"/>
<circle cx="75.2" cy="361.2" r="3.75" fill="url(#cg)"/>
<circle cx="113.7" cy="359.4" r="3.52" fill="url(#cg)"/>
<circle cx="100.7" cy="312.9" r="3.38" fill="url(#cg)"/>
<circle cx="115.1" cy="331.6" r="3.62" fill="url(#cg)"/>
<circle cx="85.0" cy="382.0" r="3.45" fill="url(#cg)"/>
<circle cx="108.1" cy="332.0" r="3.51" fill="url(#cg)"/>
<circle cx="60.4" cy="390.7" r="3.50" fill="url(#cg)"/>
<circle cx="83.9" cy="421.8" r="3.48" fill="url(#cg)"/>
<circle cx="117.0" cy="410.0" r="3.56" fill="url(#cg)"/>
<circle cx="101.0" cy="453.7" r="3.59" fill="url(#cg)"/>
<circle cx="78.0" cy="386.1" r="3.38" fill="url(#cg)"/>
<circle cx="58.8" cy="431.1" r="3.71" fill="url(#cg)"/>
<circle cx="65.1" cy="460.5" r="3.49" fill="url(#cg)"/>
<circle cx="122.9" cy="353.9" r="3.64" fill="url(#cg)"/>
<circle cx="50.7" cy="328.2" r="3.49" fill="url(#cg)"/>
<circle cx="97.5" cy="365.2" r="3.40" fill="url(#cg)"/>
<circle cx="34.3" cy="417.5" r="3.48" fill="url(#cg)"/>
<circle cx="49.2" cy="389.7" r="3.44" fill="url(#cg)"/>
<circle cx="45.3" cy="434.0" r="3.47" fill="url(#cg)"/>
<circle cx="37.9" cy="304.6" r="3.62" fill="url(#cg)"/>
<circle cx="65.5" cy="402.2" r="3.62" fill="url(#cg)"/>
<circle cx="22.7" cy="393.5" r="3.43" fill="url(#cg)"/>
<circle cx="117.1" cy="319.0" r="3.63" fill="url(#cg)"/>
<circle cx="62.6" cy="437.4" r="3.60" fill="url(#cg)"/>
<circle cx="57.4" cy="463.8" r="3.41" fill="url(#cg)"/>
<circle cx="33.0" cy="447.4" r="3.58" fill="url(#cg)"/>
<circle cx="83.5" cy="435.2" r="3.37" fill="url(#cg)"/>
<circle cx="40.6" cy="380.9" r="3.61" fill="url(#cg)"/>
<circle cx="45.3" cy="424.0" r="3.46" fill="url(#cg)"/>
<circle cx="78.4" cy="410.2" r="3.59" fill="url(#cg)"/>
<circle cx="125.0" cy="335.6" r="3.73" fill="url(#cg)"/>
<circle cx="78.2" cy="323.6" r="3.63" fill="url(#cg)"/>
<circle cx="94.7" cy="339.2" r="3.57" fill="url(#cg)"/>
<circle cx="120.1" cy="305.5" r="3.58" fill="url(#cg)"/>
<circle cx="32.4" cy="350.2" r="3.45" fill="url(#cg)"/>
<circle cx="30.7" cy="333.0" r="3.54" fill="url(#cg)"/>
<circle cx="16.0" cy="371.2" r="3.37" fill="url(#cg)"/>
<circle cx="12.6" cy="377.2" r="3.55" fill="url(#cg)"/>
<circle cx="115.2" cy="341.1" r="3.74" fill="url(#cg)"/>
<circle cx="119.3" cy="415.4" r="3.55" fill="url(#cg)"/>
<circle cx="8.0" cy="424.2" r="3.65" fill="url(#cg)"/>
<circle cx="78.5" cy="429.9" r="3.71" fill="url(#cg)"/>
<circle cx="112.1" cy="315.9" r="3.58" fill="url(#cg)"/>
<circle cx="54.9" cy="337.6" r="3.40" fill="url(#cg)"/>
<circle cx="25.4" cy="462.3" r="3.75" fill="url(#cg)"/>
<circle cx="7.2" cy="416.7" r="3.55" fill="url(#cg)"/>
<circle cx="39.1" cy="363.6" r="3.52" fill="url(#cg)"/>
<circle cx="22.7" cy="451.6" r="3.38" fill="url(#cg)"/>
<circle cx="9.3" cy="305.4" r="3.64" fill="url(#cg)"/>
<circle cx="25.2" cy="310.9" r="3.69" fill="url(#cg)"/>
<circle cx="97.5" cy="322.5" r="3.56" fill="url(#cg)"/>
<circle cx="118.7" cy="452.9" r="3.42" fill="url(#cg)"/>
<circle cx="93.3" cy="327.9" r="3.63" fill="url(#cg)"/>
<circle cx="29.7" cy="389.5" r="3.43" fill="url(#cg)"/>
<circle cx="123.7" cy="385.2" r="3.49" fill="url(#cg)"/>
<circle cx="59.5" cy="315.9" r="3.45" fill="url(#cg)"/>
<circle cx="15.3" cy="355.0" r="3.56" fill="url(#cg)"/>
<circle cx="86.9" cy="441.5" r="3.61" fill="url(#cg)"/>
<circle cx="59.3" cy="452.4" r="3.57" fill="url(#cg)"/>
<circle cx="76.9" cy="401.4" r="3.42" fill="url(#cg)"/>
<circle cx="49.7" cy="367.5" r="3.44" fill="url(#cg)"/>
<circle cx="37.0" cy="422.6" r="3.44" fill="url(#cg)"/>
<circle cx="96.1" cy="402.9" r="3.55" fill="url(#cg)"/>
<circle cx="13.6" cy="419.5" r="3.74" fill="url(#cg)"/>
<circle cx="30.5" cy="460.1" r="3.61" fill="url(#cg)"/>
<circle cx="65.0" cy="327.8" r="3.69" fill="url(#cg)"/>
<circle cx="62.1" cy="444.3" r="3.39" fill="url(#cg)"/>
<circle cx="54.8" cy="389.8" r="3.36" fill="url(#cg)"/>
<circle cx="121.3" cy="359.1" r="3.57" fill="url(#cg)"/>
<circle cx="71.7" cy="421.2" r="3.44" fill="url(#cg)"/>
<circle cx="24.5" cy="373.9" r="3.48" fill="url(#cg)"/>
<circle cx="84.4" cy="416.1" r="3.64" fill="url(#cg)"/>
<circle cx="49.3" cy="314.4" r="3.39" fill="url(#cg)"/>
<circle cx="87.9" cy="326.8" r="3.70" fill="url(#cg)"/>
<circle cx="14.9" cy="342.1" r="3.52" fill="url(#cg)"/>
<circle cx="7.9" cy="372.8" r="3.59" fill="url(#cg)"/>
<circle cx="102.3" cy="370.5" r="3.37" fill="url(#cg)"/>
<circle cx="15.1" cy="431.4" r="3.37" fill="url(#cg)"/>
<circle cx="96.0" cy="374.1" r="3.62" fill="url(#cg)"/>
<circle cx="15.2" cy="398.7" r="3.37" fill="url(#cg)"/>
<circle cx="51.8" cy="319.4" r="3.60" fill="url(#cg)"/>
<circle cx="20.5" cy="408.7" r="3.47" fill="url(#cg)"/>
<circle cx="54.6" cy="310.5" r="3.47" fill="url(#cg)"/>
<circle cx="72.6" cy="352.5" r="3.73" fill="url(#cg)"/>
<circle cx="20.0" cy="463.6" r="3.70" fill="url(#cg)"/>
<circle cx="90.5" cy="452.5" r="3.47" fill="url(#cg)"/>
<circle cx="117.5" cy="462.5" r="3.50" fill="url(#cg)"/>
<circle cx="102.7" cy="340.7" r="3.47" fill="url(#cg)"/>
<circle cx="36.3" cy="329.8" r="3.40" fill="url(#cg)"/>
<circle cx="56.8" cy="366.3" r="3.73" fill="url(#cg)"/>
<circle cx="17.7" cy="380.9" r="3.61" fill="url(#cg)"/>
<circle cx="28.3" cy="435.0" r="3.64" fill="url(#cg)"/>
<circle cx="69.1" cy="446.1" r="3.52" fill="url(#cg)"/>
<circle cx="27.3" cy="414.0" r="3.43" fill="url(#cg)"/>
<circle cx="17.2" cy="404.0" r="3.60" fill="url(#cg)"/>
<circle cx="101.3" cy="376.5" r="3.45" fill="url(#cg)"/>
<circle cx="69.0" cy="347.5" r="3.72" fill="url(#cg)"/>
<circle cx="16.5" cy="437.1" r="3.73" fill="url(#cg)"/>
<circle cx="111.0" cy="463.1" r="3.74" fill="url(#cg)"/>
<circle cx="9.1" cy="450.4" r="3.44" fill="url(#cg)"/>
<circle cx="38.1" cy="412.7" r="3.47" fill="url(#cg)"/>
<circle cx="8.8" cy="396.1" r="3.69" fill="url(#cg)"/>
<circle cx="21.2" cy="458.2" r="3.54" fill="url(#cg)"/>
<circle cx="34.1" cy="406.6" r="3.57" fill="url(#cg)"/>
<circle cx="38.5" cy="449.4" r="3.64" fill="url(#cg)"/>
<circle cx="44.7" cy="451.0" r="3.43" fill="url(#cg)"/>
<circle cx="22.7" cy="305.7" r="3.54" fill="url(#cg)"/>
<circle cx="70.1" cy="309.2" r="3.38" fill="url(#cg)"/>
<circle cx="54.4" cy="456.8" r="3.36" fill="url(#cg)"/>
<circle cx="43.1" cy="312.6" r="3.74" fill="url(#cg)"/>
<circle cx="89.5" cy="406.5" r="3.64" fill="url(#cg)"/>
<circle cx="107.9" cy="312.7" r="3.60" fill="url(#cg)"/>
<circle cx="67.5" cy="336.6" r="3.43" fill="url(#cg)"/>
<circle cx="44.9" cy="446.9" r="0.75" fill="#5b4590" opacity="0.75"/>
<circle cx="122.6" cy="405.4" r="0.75" fill="#5b4590" opacity="0.75"/>
<circle cx="114.8" cy="368.2" r="0.75" fill="#5b4590" opacity="0.75"/>
<circle cx="105.9" cy="418.2" r="0.75" fill="#5b4590" opacity="0.75"/>
<circle cx="36.6" cy="447.3" r="0.75" fill="#5b4590" opacity="0.75"/>
<circle cx="13.6" cy="349.3" r="0.75" fill="#5b4590" opacity="0.75"/>
<circle cx="66.9" cy="449.7" r="0.75" fill="#5b4590" opacity="0.75"/>
<circle cx="51.2" cy="325.4" r="0.75" fill="#5b4590" opacity="0.75"/>
<circle cx="92.4" cy="409.5" r="0.75" fill="#5b4590" opacity="0.75"/>
<circle cx="25.3" cy="412.4" r="0.75" fill="#5b4590" opacity="0.75"/>
<circle cx="55.2" cy="372.2" r="0.75" fill="#5b4590" opacity="0.75"/>
<circle cx="116.7" cy="433.8" r="0.75" fill="#5b4590" opacity="0.75"/>
<circle cx="120.8" cy="414.3" r="0.75" fill="#5b4590" opacity="0.75"/>
<circle cx="55.0" cy="365.0" r="0.75" fill="#5b4590" opacity="0.75"/>
<circle cx="43.3" cy="382.3" r="2.6" fill="#3a2380"/>
</g></g>
<clipPath id="clip2"><rect x="130" y="307" width="116.9" height="154.3"/></clipPath>
<g clip-path="url(#clip2)">
<rect x="130" y="307" width="116.9" height="154.3" fill="#b0b8a6"/>
<g filter="url(#blur)">
<circle cx="244.5" cy="455.9" r="3.37" fill="url(#cg)"/>
<circle cx="134.0" cy="317.6" r="3.58" fill="url(#cg)"/>
<circle cx="229.7" cy="422.0" r="3.61" fill="url(#cg)"/>
<circle cx="209.3" cy="353.4" r="3.60" fill="url(#cg)"/>
<circle cx="201.5" cy="401.3" r="3.45" fill="url(#cg)"/>
<circle cx="198.4" cy="329.4" r="3.37" fill="url(#cg)"/>
<circle cx="179.9" cy="367.1" r="3.56" fill="url(#cg)"/>
<circle cx="215.9" cy="463.5" r="3.45" fill="url(#cg)"/>
<circle cx="243.7" cy="391.2" r="3.68" fill="url(#cg)"/>
<circle cx="181.7" cy="347.0" r="3.69" fill="url(#cg)"/>
<circle cx="131.4" cy="308.4" r="3.38" fill="url(#cg)"/>
<circle cx="184.1" cy="355.0" r="3.66" fill="url(#cg)"/>
<circle cx="173.7" cy="447.0" r="3.53" fill="url(#cg)"/>
<circle cx="191.6" cy="393.8" r="3.52" fill="url(#cg)"/>
<circle cx="156.0" cy="307.8" r="3.53" fill="url(#cg)"/>
<circle cx="167.0" cy="325.9" r="3.70" fill="url(#cg)"/>
<circle cx="189.7" cy="464.1" r="3.39" fill="url(#cg)"/>
<circle cx="209.9" cy="333.1" r="3.73" fill="url(#cg)"/>
<circle cx="236.8" cy="431.7" r="3.72" fill="url(#cg)"/>
<circle cx="238.4" cy="426.3" r="3.52" fill="url(#cg)"/>
<circle cx="224.1" cy="360.7" r="3.74" fill="url(#cg)"/>
<circle cx="146.8" cy="424.9" r="3.67" fill="url(#cg)"/>
<circle cx="183.7" cy="389.0" r="3.62" fill="url(#cg)"/>
<circle cx="187.2" cy="452.3" r="3.56" fill="url(#cg)"/>
<circle cx="188.6" cy="437.3" r="3.64" fill="url(#cg)"/>
<circle cx="237.6" cy="377.9" r="3.58" fill="url(#cg)"/>
<circle cx="196.8" cy="451.5" r="3.67" fill="url(#cg)"/>
<circle cx="216.0" cy="382.0" r="3.44" fill="url(#cg)"/>
<circle cx="154.3" cy="356.0" r="3.52" fill="url(#cg)"/>
<circle cx="238.6" cy="347.0" r="3.46" fill="url(#cg)"/>
<circle cx="239.0" cy="353.6" r="3.35" fill="url(#cg)"/>
<circle cx="244.7" cy="417.2" r="3.63" fill="url(#cg)"/>
<circle cx="189.0" cy="387.0" r="3.59" fill="url(#cg)"/>
<circle cx="207.1" cy="398.2" r="3.45" fill="url(#cg)"/>
<circle cx="165.3" cy="337.3" r="3.68" fill="url(#cg)"/>
<circle cx="203.6" cy="316.1" r="3.64" fill="url(#cg)"/>
<circle cx="238.6" cy="334.7" r="3.66" fill="url(#cg)"/>
<circle cx="218.5" cy="313.4" r="3.58" fill="url(#cg)"/>
<circle cx="160.6" cy="340.3" r="3.47" fill="url(#cg)"/>
<circle cx="234.6" cy="321.0" r="3.61" fill="url(#cg)"/>
<circle cx="235.2" cy="371.8" r="3.45" fill="url(#cg)"/>
<circle cx="215.1" cy="309.1" r="3.56" fill="url(#cg)"/>
<circle cx="171.5" cy="331.6" r="3.68" fill="url(#cg)"/>
<circle cx="209.7" cy="317.3" r="3.55" fill="url(#cg)"/>
<circle cx="244.3" cy="308.1" r="3.70" fill="url(#cg)"/>
<circle cx="158.4" cy="434.4" r="3.68" fill="url(#cg)"/>
<circle cx="146.3" cy="333.5" r="3.53" fill="url(#cg)"/>
<circle cx="212.0" cy="365.8" r="3.51" fill="url(#cg)"/>
<circle cx="132.3" cy="462.7" r="3.46" fill="url(#cg)"/>
<circle cx="145.6" cy="309.8" r="3.54" fill="url(#cg)"/>
<circle cx="169.3" cy="402.6" r="3.38" fill="url(#cg)"/>
<circle cx="218.2" cy="322.1" r="3.68" fill="url(#cg)"/>
<circle cx="168.4" cy="308.9" r="3.45" fill="url(#cg)"/>
<circle cx="182.1" cy="426.8" r="3.38" fill="url(#cg)"/>
<circle cx="217.9" cy="448.6" r="3.41" fill="url(#cg)"/>
<circle cx="219.9" cy="442.3" r="3.49" fill="url(#cg)"/>
<circle cx="154.7" cy="409.9" r="3.48" fill="url(#cg)"/>
<circle cx="165.9" cy="320.4" r="3.60" fill="url(#cg)"/>
<circle cx="182.0" cy="444.2" r="3.48" fill="url(#cg)"/>
<circle cx="190.3" cy="327.1" r="3.44" fill="url(#cg)"/>
<circle cx="245.0" cy="345.5" r="3.54" fill="url(#cg)"/>
<circle cx="201.5" cy="371.3" r="3.55" fill="url(#cg)"/>
<circle cx="129.2" cy="393.4" r="3.56" fill="url(#cg)"/>
<circle cx="131.1" cy="329.8" r="3.50" fill="url(#cg)"/>
<circle cx="138.8" cy="405.8" r="3.57" fill="url(#cg)"/>
<circle cx="241.8" cy="463.4" r="3.74" fill="url(#cg)"/>
<circle cx="155.6" cy="375.3" r="3.49" fill="url(#cg)"/>
<circle cx="157.8" cy="398.8" r="3.63" fill="url(#cg)"/>
<circle cx="203.7" cy="432.3" r="3.52" fill="url(#cg)"/>
<circle cx="191.7" cy="304.8" r="3.63" fill="url(#cg)"/>
<circle cx="149.3" cy="341.1" r="3.51" fill="url(#cg)"/>
<circle cx="153.7" cy="387.5" r="3.67" fill="url(#cg)"/>
<circle cx="205.9" cy="338.1" r="3.75" fill="url(#cg)"/>
<circle cx="238.4" cy="458.4" r="3.63" fill="url(#cg)"/>
<circle cx="216.6" cy="373.5" r="3.65" fill="url(#cg)"/>
<circle cx="133.3" cy="371.0" r="3.37" fill="url(#cg)"/>
<circle cx="149.3" cy="319.0" r="3.62" fill="url(#cg)"/>
<circle cx="202.0" cy="350.4" r="3.63" fill="url(#cg)"/>
<circle cx="247.9" cy="363.7" r="3.41" fill="url(#cg)"/>
<circle cx="129.3" cy="413.9" r="3.66" fill="url(#cg)"/>
<circle cx="139.4" cy="353.0" r="3.68" fill="url(#cg)"/>
<circle cx="230.3" cy="411.8" r="3.72" fill="url(#cg)"/>
<circle cx="128.9" cy="376.4" r="3.52" fill="url(#cg)"/>
<circle cx="177.5" cy="381.9" r="3.42" fill="url(#cg)"/>
<circle cx="161.9" cy="363.8" r="3.43" fill="url(#cg)"/>
<circle cx="241.9" cy="316.3" r="3.36" fill="url(#cg)"/>
<circle cx="219.8" cy="334.8" r="3.55" fill="url(#cg)"/>
<circle cx="197.2" cy="366.8" r="3.74" fill="url(#cg)"/>
<circle cx="175.6" cy="323.5" r="3.50" fill="url(#cg)"/>
<circle cx="142.0" cy="316.9" r="3.56" fill="url(#cg)"/>
<circle cx="231.5" cy="406.8" r="3.40" fill="url(#cg)"/>
<circle cx="222.5" cy="420.0" r="3.66" fill="url(#cg)"/>
<circle cx="188.2" cy="361.3" r="3.49" fill="url(#cg)"/>
<circle cx="183.2" cy="432.0" r="3.46" fill="url(#cg)"/>
<circle cx="160.1" cy="388.4" r="3.68" fill="url(#cg)"/>
<circle cx="185.7" cy="457.0" r="3.63" fill="url(#cg)"/>
<circle cx="225.9" cy="453.4" r="3.58" fill="url(#cg)"/>
<circle cx="229.7" cy="351.6" r="3.64" fill="url(#cg)"/>
<circle cx="155.5" cy="382.4" r="3.40" fill="url(#cg)"/>
<circle cx="210.5" cy="451.2" r="3.63" fill="url(#cg)"/>
<circle cx="170.8" cy="463.9" r="3.58" fill="url(#cg)"/>
<circle cx="145.0" cy="370.8" r="3.60" fill="url(#cg)"/>
<circle cx="206.6" cy="324.6" r="3.48" fill="url(#cg)"/>
<circle cx="191.4" cy="322.0" r="3.53" fill="url(#cg)"/>
<circle cx="193.5" cy="456.3" r="3.39" fill="url(#cg)"/>
<circle cx="214.9" cy="345.2" r="3.53" fill="url(#cg)"/>
<circle cx="183.6" cy="416.7" r="3.54" fill="url(#cg)"/>
<circle cx="176.7" cy="463.5" r="3.58" fill="url(#cg)"/>
<circle cx="223.2" cy="395.9" r="3.55" fill="url(#cg)"/>
<circle cx="130.6" cy="399.4" r="3.59" fill="url(#cg)"/>
<circle cx="189.7" cy="381.3" r="3.57" fill="url(#cg)"/>
<circle cx="176.8" cy="417.9" r="3.75" fill="url(#cg)"/>
<circle cx="167.6" cy="423.5" r="3.41" fill="url(#cg)"/>
<circle cx="207.9" cy="426.1" r="3.61" fill="url(#cg)"/>
<circle cx="209.0" cy="460.7" r="3.65" fill="url(#cg)"/>
<circle cx="205.0" cy="305.9" r="3.66" fill="url(#cg)"/>
<circle cx="227.3" cy="306.7" r="3.42" fill="url(#cg)"/>
<circle cx="201.5" cy="449.1" r="3.45" fill="url(#cg)"/>
<circle cx="227.2" cy="427.0" r="3.63" fill="url(#cg)"/>
<circle cx="150.5" cy="432.9" r="3.60" fill="url(#cg)"/>
<circle cx="184.4" cy="336.9" r="3.48" fill="url(#cg)"/>
<circle cx="127.4" cy="381.8" r="3.68" fill="url(#cg)"/>
<circle cx="219.2" cy="429.7" r="3.53" fill="url(#cg)"/>
<circle cx="176.7" cy="412.2" r="3.45" fill="url(#cg)"/>
<circle cx="163.2" cy="305.7" r="3.54" fill="url(#cg)"/>
<circle cx="172.0" cy="390.2" r="3.44" fill="url(#cg)"/>
<circle cx="174.0" cy="375.0" r="3.65" fill="url(#cg)"/>
<circle cx="206.8" cy="381.6" r="3.74" fill="url(#cg)"/>
<circle cx="136.4" cy="436.1" r="3.64" fill="url(#cg)"/>
<circle cx="164.4" cy="407.6" r="3.58" fill="url(#cg)"/>
<circle cx="224.8" cy="408.7" r="3.39" fill="url(#cg)"/>
<circle cx="175.3" cy="438.8" r="3.73" fill="url(#cg)"/>
<circle cx="231.6" cy="431.9" r="3.70" fill="url(#cg)"/>
<circle cx="161.1" cy="457.5" r="3.68" fill="url(#cg)"/>
<circle cx="173.6" cy="362.4" r="3.64" fill="url(#cg)"/>
<circle cx="183.2" cy="330.7" r="3.38" fill="url(#cg)"/>
<circle cx="236.9" cy="451.8" r="3.48" fill="url(#cg)"/>
<circle cx="181.3" cy="406.5" r="3.54" fill="url(#cg)"/>
<circle cx="139.2" cy="342.1" r="3.59" fill="url(#cg)"/>
<circle cx="150.3" cy="412.8" r="3.43" fill="url(#cg)"/>
<circle cx="188.8" cy="414.6" r="3.70" fill="url(#cg)"/>
<circle cx="243.6" cy="423.0" r="3.55" fill="url(#cg)"/>
<circle cx="247.3" cy="350.7" r="3.64" fill="url(#cg)"/>
<circle cx="203.5" cy="411.5" r="3.70" fill="url(#cg)"/>
<circle cx="172.2" cy="367.3" r="3.45" fill="url(#cg)"/>
<circle cx="148.5" cy="457.5" r="3.43" fill="url(#cg)"/>
<circle cx="170.5" cy="380.4" r="3.58" fill="url(#cg)"/>
<circle cx="245.1" cy="324.4" r="3.40" fill="url(#cg)"/>
<circle cx="130.4" cy="360.2" r="3.36" fill="url(#cg)"/>
<circle cx="174.9" cy="349.6" r="3.36" fill="url(#cg)"/>
<circle cx="165.9" cy="452.5" r="3.66" fill="url(#cg)"/>
<circle cx="138.7" cy="326.8" r="3.69" fill="url(#cg)"/>
<circle cx="169.1" cy="343.5" r="3.50" fill="url(#cg)"/>
<circle cx="168.4" cy="363.8" r="3.54" fill="url(#cg)"/>
<circle cx="222.7" cy="325.3" r="3.58" fill="url(#cg)"/>
<circle cx="185.2" cy="403.3" r="3.47" fill="url(#cg)"/>
<circle cx="165.9" cy="438.3" r="3.49" fill="url(#cg)"/>
<circle cx="248.5" cy="438.8" r="3.50" fill="url(#cg)"/>
<circle cx="191.5" cy="311.4" r="3.45" fill="url(#cg)"/>
<circle cx="140.3" cy="463.5" r="3.63" fill="url(#cg)"/>
<circle cx="142.8" cy="454.3" r="3.57" fill="url(#cg)"/>
<circle cx="140.0" cy="360.2" r="3.39" fill="url(#cg)"/>
<circle cx="148.3" cy="327.5" r="3.39" fill="url(#cg)"/>
<circle cx="246.4" cy="408.1" r="3.65" fill="url(#cg)"/>
<circle cx="133.1" cy="448.1" r="3.54" fill="url(#cg)"/>
<circle cx="151.5" cy="451.2" r="3.69" fill="url(#cg)"/>
<circle cx="228.0" cy="387.8" r="3.64" fill="url(#cg)"/>
<circle cx="210.8" cy="444.3" r="3.58" fill="url(#cg)"/>
<circle cx="144.2" cy="382.9" r="3.45" fill="url(#cg)"/>
<circle cx="143.2" cy="322.7" r="3.59" fill="url(#cg)"/>
<circle cx="133.5" cy="338.5" r="3.54" fill="url(#cg)"/>
<circle cx="232.5" cy="448.9" r="3.65" fill="url(#cg)"/>
<circle cx="180.0" cy="372.6" r="3.45" fill="url(#cg)"/>
<circle cx="175.9" cy="431.9" r="3.74" fill="url(#cg)"/>
<circle cx="221.1" cy="462.2" r="3.73" fill="url(#cg)"/>
<circle cx="155.2" cy="416.7" r="3.74" fill="url(#cg)"/>
<circle cx="194.8" cy="336.4" r="3.50" fill="url(#cg)"/>
<circle cx="150.9" cy="396.9" r="3.43" fill="url(#cg)"/>
<circle cx="203.9" cy="423.0" r="3.53" fill="url(#cg)"/>
<circle cx="132.9" cy="427.8" r="3.66" fill="url(#cg)"/>
<circle cx="228.2" cy="437.9" r="3.61" fill="url(#cg)"/>
<circle cx="161.1" cy="448.7" r="3.36" fill="url(#cg)"/>
<circle cx="142.0" cy="416.6" r="3.44" fill="url(#cg)"/>
<circle cx="151.7" cy="427.8" r="3.73" fill="url(#cg)"/>
<circle cx="223.6" cy="375.8" r="3.56" fill="url(#cg)"/>
<circle cx="158.3" cy="334.6" r="3.38" fill="url(#cg)"/>
<circle cx="184.7" cy="395.9" r="3.58" fill="url(#cg)"/>
<circle cx="165.0" cy="331.3" r="3.66" fill="url(#cg)"/>
<circle cx="201.4" cy="441.9" r="3.71" fill="url(#cg)"/>
<circle cx="154.3" cy="402.7" r="3.40" fill="url(#cg)"/>
<circle cx="235.7" cy="413.3" r="3.63" fill="url(#cg)"/>
<circle cx="128.6" cy="443.5" r="3.39" fill="url(#cg)"/>
<circle cx="216.0" cy="359.0" r="3.61" fill="url(#cg)"/>
<circle cx="239.4" cy="407.4" r="3.57" fill="url(#cg)"/>
<circle cx="239.6" cy="328.2" r="3.36" fill="url(#cg)"/>
<circle cx="199.7" cy="416.6" r="3.42" fill="url(#cg)"/>
<circle cx="191.4" cy="341.6" r="3.52" fill="url(#cg)"/>
<circle cx="153.2" cy="313.9" r="3.63" fill="url(#cg)"/>
<circle cx="180.6" cy="459.6" r="3.75" fill="url(#cg)"/>
<circle cx="173.7" cy="338.5" r="3.46" fill="url(#cg)"/>
<circle cx="227.5" cy="318.5" r="3.46" fill="url(#cg)"/>
<circle cx="243.2" cy="412.1" r="3.63" fill="url(#cg)"/>
<circle cx="133.6" cy="417.3" r="3.53" fill="url(#cg)"/>
<circle cx="139.4" cy="385.8" r="3.59" fill="url(#cg)"/>
<circle cx="190.9" cy="429.4" r="3.69" fill="url(#cg)"/>
<circle cx="185.8" cy="324.7" r="3.65" fill="url(#cg)"/>
<circle cx="144.4" cy="355.6" r="3.52" fill="url(#cg)"/>
<circle cx="193.1" cy="402.7" r="3.50" fill="url(#cg)"/>
<circle cx="206.4" cy="455.1" r="3.63" fill="url(#cg)"/>
<circle cx="139.5" cy="393.4" r="3.59" fill="url(#cg)"/>
<circle cx="137.6" cy="411.4" r="3.62" fill="url(#cg)"/>
<circle cx="240.4" cy="401.1" r="3.54" fill="url(#cg)"/>
<circle cx="140.2" cy="429.7" r="3.64" fill="url(#cg)"/>
<circle cx="171.7" cy="455.9" r="3.44" fill="url(#cg)"/>
<circle cx="199.9" cy="458.9" r="3.67" fill="url(#cg)"/>
<circle cx="131.9" cy="343.5" r="3.51" fill="url(#cg)"/>
<circle cx="223.9" cy="447.4" r="3.52" fill="url(#cg)"/>
<circle cx="127.8" cy="369.0" r="3.37" fill="url(#cg)"/>
<circle cx="188.5" cy="349.0" r="3.68" fill="url(#cg)"/>
<circle cx="207.1" cy="312.4" r="3.58" fill="url(#cg)"/>
<circle cx="197.3" cy="386.8" r="3.60" fill="url(#cg)"/>
<circle cx="243.9" cy="432.1" r="3.48" fill="url(#cg)"/>
<circle cx="200.1" cy="324.5" r="3.37" fill="url(#cg)"/>
<circle cx="219.3" cy="456.7" r="3.56" fill="url(#cg)"/>
<circle cx="130.4" cy="352.5" r="3.55" fill="url(#cg)"/>
<circle cx="230.2" cy="459.9" r="3.43" fill="url(#cg)"/>
<circle cx="218.8" cy="408.7" r="3.68" fill="url(#cg)"/>
<circle cx="141.4" cy="399.9" r="3.36" fill="url(#cg)"/>
<circle cx="226.3" cy="369.2" r="3.69" fill="url(#cg)"/>
<circle cx="239.0" cy="395.4" r="3.72" fill="url(#cg)"/>
<circle cx="176.4" cy="451.3" r="3.39" fill="url(#cg)"/>
<circle cx="181.7" cy="319.1" r="3.73" fill="url(#cg)"/>
<circle cx="246.3" cy="444.3" r="3.73" fill="url(#cg)"/>
<circle cx="156.7" cy="439.5" r="3.49" fill="url(#cg)"/>
<circle cx="247.6" cy="333.0" r="3.52" fill="url(#cg)"/>
<circle cx="215.7" cy="340.1" r="3.68" fill="url(#cg)"/>
<circle cx="127.2" cy="317.5" r="3.37" fill="url(#cg)"/>
<circle cx="149.7" cy="367.4" r="3.68" fill="url(#cg)"/>
<circle cx="197.2" cy="379.8" r="3.35" fill="url(#cg)"/>
<circle cx="168.5" cy="429.6" r="3.60" fill="url(#cg)"/>
<circle cx="231.4" cy="328.9" r="3.37" fill="url(#cg)"/>
<circle cx="222.3" cy="384.9" r="3.53" fill="url(#cg)"/>
<circle cx="129.1" cy="406.4" r="3.63" fill="url(#cg)"/>
<circle cx="163.2" cy="314.2" r="3.56" fill="url(#cg)"/>
<circle cx="237.3" cy="360.5" r="3.49" fill="url(#cg)"/>
<circle cx="164.0" cy="394.8" r="3.46" fill="url(#cg)"/>
<circle cx="235.1" cy="389.9" r="3.39" fill="url(#cg)"/>
<circle cx="150.0" cy="374.1" r="3.46" fill="url(#cg)"/>
<circle cx="229.4" cy="357.6" r="3.44" fill="url(#cg)"/>
<circle cx="208.3" cy="403.6" r="3.44" fill="url(#cg)"/>
<circle cx="193.0" cy="354.3" r="3.40" fill="url(#cg)"/>
<circle cx="196.2" cy="423.7" r="3.43" fill="url(#cg)"/>
<circle cx="163.9" cy="372.3" r="3.51" fill="url(#cg)"/>
<circle cx="211.7" cy="437.7" r="3.39" fill="url(#cg)"/>
<circle cx="150.3" cy="304.3" r="3.64" fill="url(#cg)"/>
<circle cx="160.0" cy="346.7" r="3.47" fill="url(#cg)"/>
<circle cx="128.0" cy="452.7" r="3.66" fill="url(#cg)"/>
<circle cx="223.7" cy="310.8" r="3.57" fill="url(#cg)"/>
<circle cx="249.6" cy="420.5" r="3.64" fill="url(#cg)"/>
<circle cx="238.9" cy="312.2" r="3.64" fill="url(#cg)"/>
<circle cx="166.8" cy="350.9" r="3.49" fill="url(#cg)"/>
<circle cx="154.8" cy="365.4" r="3.62" fill="url(#cg)"/>
<circle cx="198.4" cy="307.4" r="3.37" fill="url(#cg)"/>
<circle cx="242.6" cy="449.4" r="3.69" fill="url(#cg)"/>
<circle cx="139.7" cy="305.2" r="3.64" fill="url(#cg)"/>
<circle cx="208.6" cy="411.6" r="3.72" fill="url(#cg)"/>
<circle cx="177.6" cy="341.9" r="3.49" fill="url(#cg)"/>
<circle cx="215.1" cy="391.2" r="3.41" fill="url(#cg)"/>
<circle cx="237.8" cy="304.1" r="3.64" fill="url(#cg)"/>
<circle cx="244.4" cy="397.5" r="3.42" fill="url(#cg)"/>
<circle cx="138.0" cy="380.1" r="3.70" fill="url(#cg)"/>
<circle cx="203.7" cy="463.8" r="3.48" fill="url(#cg)"/>
<circle cx="173.1" cy="408.5" r="3.69" fill="url(#cg)"/>
<circle cx="193.0" cy="346.9" r="3.38" fill="url(#cg)"/>
<circle cx="247.9" cy="379.0" r="3.47" fill="url(#cg)"/>
<circle cx="161.3" cy="425.6" r="3.67" fill="url(#cg)"/>
<circle cx="173.3" cy="398.1" r="3.38" fill="url(#cg)"/>
<circle cx="208.9" cy="417.8" r="3.64" fill="url(#cg)"/>
<circle cx="191.8" cy="368.6" r="3.51" fill="url(#cg)"/>
<circle cx="219.4" cy="348.3" r="3.58" fill="url(#cg)"/>
<circle cx="152.6" cy="346.7" r="3.42" fill="url(#cg)"/>
<circle cx="206.9" cy="389.0" r="3.45" fill="url(#cg)"/>
<circle cx="223.2" cy="402.0" r="3.70" fill="url(#cg)"/>
<circle cx="226.3" cy="338.0" r="3.64" fill="url(#cg)"/>
<circle cx="200.2" cy="334.6" r="3.40" fill="url(#cg)"/>
<circle cx="213.6" cy="399.2" r="3.38" fill="url(#cg)"/>
<circle cx="178.2" cy="355.6" r="3.39" fill="url(#cg)"/>
<circle cx="240.1" cy="369.4" r="3.43" fill="url(#cg)"/>
<circle cx="146.9" cy="407.4" r="3.46" fill="url(#cg)"/>
<circle cx="153.6" cy="456.0" r="3.56" fill="url(#cg)"/>
<circle cx="138.3" cy="447.4" r="3.47" fill="url(#cg)"/>
<circle cx="195.3" cy="373.3" r="3.73" fill="url(#cg)"/>
<circle cx="249.2" cy="387.7" r="3.38" fill="url(#cg)"/>
<circle cx="140.1" cy="367.1" r="3.55" fill="url(#cg)"/>
<circle cx="128.1" cy="437.6" r="3.60" fill="url(#cg)"/>
<circle cx="226.4" cy="347.0" r="3.67" fill="url(#cg)"/>
<circle cx="220.1" cy="415.5" r="3.54" fill="url(#cg)"/>
<circle cx="209.7" cy="371.5" r="3.60" fill="url(#cg)"/>
<circle cx="177.8" cy="315.3" r="3.41" fill="url(#cg)"/>
<circle cx="236.3" cy="384.0" r="3.46" fill="url(#cg)"/>
<circle cx="160.5" cy="413.5" r="3.69" fill="url(#cg)"/>
<circle cx="157.7" cy="351.8" r="3.36" fill="url(#cg)"/>
<circle cx="138.6" cy="333.7" r="3.57" fill="url(#cg)"/>
<circle cx="246.0" cy="358.9" r="3.72" fill="url(#cg)"/>
<circle cx="242.6" cy="377.1" r="3.72" fill="url(#cg)"/>
<circle cx="235.1" cy="399.6" r="3.43" fill="url(#cg)"/>
<circle cx="143.3" cy="348.2" r="3.75" fill="url(#cg)"/>
<circle cx="195.0" cy="359.1" r="3.54" fill="url(#cg)"/>
<circle cx="223.6" cy="330.8" r="3.40" fill="url(#cg)"/>
<circle cx="153.7" cy="326.0" r="3.68" fill="url(#cg)"/>
<circle cx="193.8" cy="437.4" r="3.56" fill="url(#cg)"/>
<circle cx="145.3" cy="389.0" r="3.74" fill="url(#cg)"/>
<circle cx="174.5" cy="426.0" r="3.40" fill="url(#cg)"/>
<circle cx="212.6" cy="430.4" r="3.69" fill="url(#cg)"/>
<circle cx="217.9" cy="367.1" r="3.48" fill="url(#cg)"/>
<circle cx="178.8" cy="422.8" r="3.37" fill="url(#cg)"/>
<circle cx="145.2" cy="449.2" r="3.41" fill="url(#cg)"/>
<circle cx="153.1" cy="337.8" r="3.66" fill="url(#cg)"/>
<circle cx="184.8" cy="343.0" r="3.72" fill="url(#cg)"/>
<circle cx="224.8" cy="458.4" r="3.64" fill="url(#cg)"/>
<circle cx="223.5" cy="354.6" r="3.61" fill="url(#cg)"/>
<circle cx="204.2" cy="359.6" r="3.52" fill="url(#cg)"/>
<circle cx="159.9" cy="323.6" r="3.47" fill="url(#cg)"/>
<circle cx="248.9" cy="305.1" r="3.50" fill="url(#cg)"/>
<circle cx="186.5" cy="421.0" r="3.38" fill="url(#cg)"/>
<circle cx="209.8" cy="359.6" r="3.41" fill="url(#cg)"/>
<circle cx="158.1" cy="312.8" r="3.45" fill="url(#cg)"/>
<circle cx="189.6" cy="375.8" r="3.72" fill="url(#cg)"/>
<circle cx="163.4" cy="431.4" r="3.71" fill="url(#cg)"/>
<circle cx="147.8" cy="437.5" r="3.46" fill="url(#cg)"/>
<circle cx="176.9" cy="393.7" r="3.73" fill="url(#cg)"/>
<circle cx="249.3" cy="413.8" r="3.41" fill="url(#cg)"/>
<circle cx="176.8" cy="305.4" r="3.61" fill="url(#cg)"/>
<circle cx="191.8" cy="409.4" r="3.39" fill="url(#cg)"/>
<circle cx="156.7" cy="423.0" r="3.58" fill="url(#cg)"/>
<circle cx="152.3" cy="445.3" r="3.74" fill="url(#cg)"/>
<circle cx="248.7" cy="328.0" r="3.64" fill="url(#cg)"/>
<circle cx="235.2" cy="442.6" r="3.62" fill="url(#cg)"/>
<circle cx="198.4" cy="407.3" r="3.61" fill="url(#cg)"/>
<circle cx="177.0" cy="333.6" r="3.68" fill="url(#cg)"/>
<circle cx="171.3" cy="419.2" r="3.55" fill="url(#cg)"/>
<circle cx="199.7" cy="355.3" r="3.71" fill="url(#cg)"/>
<circle cx="227.2" cy="416.4" r="3.64" fill="url(#cg)"/>
<circle cx="232.0" cy="378.2" r="3.64" fill="url(#cg)"/>
<circle cx="195.8" cy="317.4" r="3.44" fill="url(#cg)"/>
<circle cx="249.2" cy="428.7" r="3.67" fill="url(#cg)"/>
<circle cx="145.1" cy="362.4" r="3.73" fill="url(#cg)"/>
<circle cx="191.6" cy="445.6" r="3.37" fill="url(#cg)"/>
<circle cx="149.2" cy="462.8" r="3.53" fill="url(#cg)"/>
<circle cx="202.3" cy="377.5" r="3.63" fill="url(#cg)"/>
<circle cx="230.7" cy="342.3" r="3.67" fill="url(#cg)"/>
<circle cx="223.0" cy="343.3" r="3.67" fill="url(#cg)"/>
<circle cx="240.9" cy="341.7" r="3.48" fill="url(#cg)"/>
<circle cx="197.6" cy="312.4" r="3.54" fill="url(#cg)"/>
<circle cx="238.9" cy="420.9" r="3.65" fill="url(#cg)"/>
<circle cx="236.1" cy="437.0" r="3.74" fill="url(#cg)"/>
<circle cx="166.7" cy="358.9" r="3.40" fill="url(#cg)"/>
<circle cx="198.0" cy="392.2" r="3.36" fill="url(#cg)"/>
<circle cx="245.9" cy="369.5" r="3.69" fill="url(#cg)"/>
<circle cx="180.8" cy="377.7" r="3.36" fill="url(#cg)"/>
<circle cx="206.0" cy="364.9" r="3.38" fill="url(#cg)"/>
<circle cx="169.2" cy="371.6" r="3.50" fill="url(#cg)"/>
<circle cx="161.0" cy="379.7" r="3.35" fill="url(#cg)"/>
<circle cx="158.2" cy="462.8" r="3.72" fill="url(#cg)"/>
<circle cx="170.8" cy="318.2" r="3.36" fill="url(#cg)"/>
<circle cx="229.0" cy="444.1" r="3.38" fill="url(#cg)"/>
<circle cx="217.2" cy="420.7" r="3.55" fill="url(#cg)"/>
<circle cx="203.6" cy="392.8" r="3.51" fill="url(#cg)"/>
<circle cx="197.2" cy="412.2" r="3.65" fill="url(#cg)"/>
<circle cx="188.1" cy="317.1" r="3.70" fill="url(#cg)"/>
<circle cx="138.0" cy="441.9" r="3.36" fill="url(#cg)"/>
<circle cx="190.9" cy="423.9" r="3.73" fill="url(#cg)"/>
<circle cx="185.3" cy="304.7" r="3.38" fill="url(#cg)"/>
<circle cx="127.7" cy="425.0" r="3.50" fill="url(#cg)"/>
<circle cx="231.4" cy="394.1" r="3.45" fill="url(#cg)"/>
<circle cx="151.3" cy="320.9" r="0.75" fill="#5b4590" opacity="0.75"/>
<circle cx="222.6" cy="357.7" r="0.75" fill="#5b4590" opacity="0.75"/>
<circle cx="170.8" cy="443.0" r="0.75" fill="#5b4590" opacity="0.75"/>
<circle cx="176.1" cy="331.5" r="0.75" fill="#5b4590" opacity="0.75"/>
<circle cx="147.6" cy="363.1" r="0.75" fill="#5b4590" opacity="0.75"/>
<circle cx="138.9" cy="408.6" r="0.75" fill="#5b4590" opacity="0.75"/>
<circle cx="173.5" cy="411.1" r="0.75" fill="#5b4590" opacity="0.75"/>
<circle cx="181.7" cy="317.9" r="0.75" fill="#5b4590" opacity="0.75"/>
<circle cx="244.0" cy="421.6" r="0.75" fill="#5b4590" opacity="0.75"/>
<circle cx="198.0" cy="329.8" r="0.75" fill="#5b4590" opacity="0.75"/>
<circle cx="205.1" cy="389.0" r="0.75" fill="#5b4590" opacity="0.75"/>
<circle cx="212.2" cy="318.0" r="0.75" fill="#5b4590" opacity="0.75"/>
<circle cx="207.3" cy="451.8" r="0.75" fill="#5b4590" opacity="0.75"/>
<circle cx="222.9" cy="408.3" r="0.75" fill="#5b4590" opacity="0.75"/>
<ellipse cx="136.7" cy="366" rx="3.2" ry="2.8" fill="#4f1f88"/>
<ellipse cx="202.7" cy="432.3" rx="6" ry="4.2" fill="#8e6aa8" opacity="0.65" filter="url(#blur2)"/>
</g></g>
<line x1="13.00" y1="454.50" x2="28.90" y2="454.50" stroke="#fff" stroke-width="1.8"/>
<line x1="133.50" y1="454.50" x2="149.50" y2="454.50" stroke="#fff" stroke-width="1.8"/>
</svg></body></html>
